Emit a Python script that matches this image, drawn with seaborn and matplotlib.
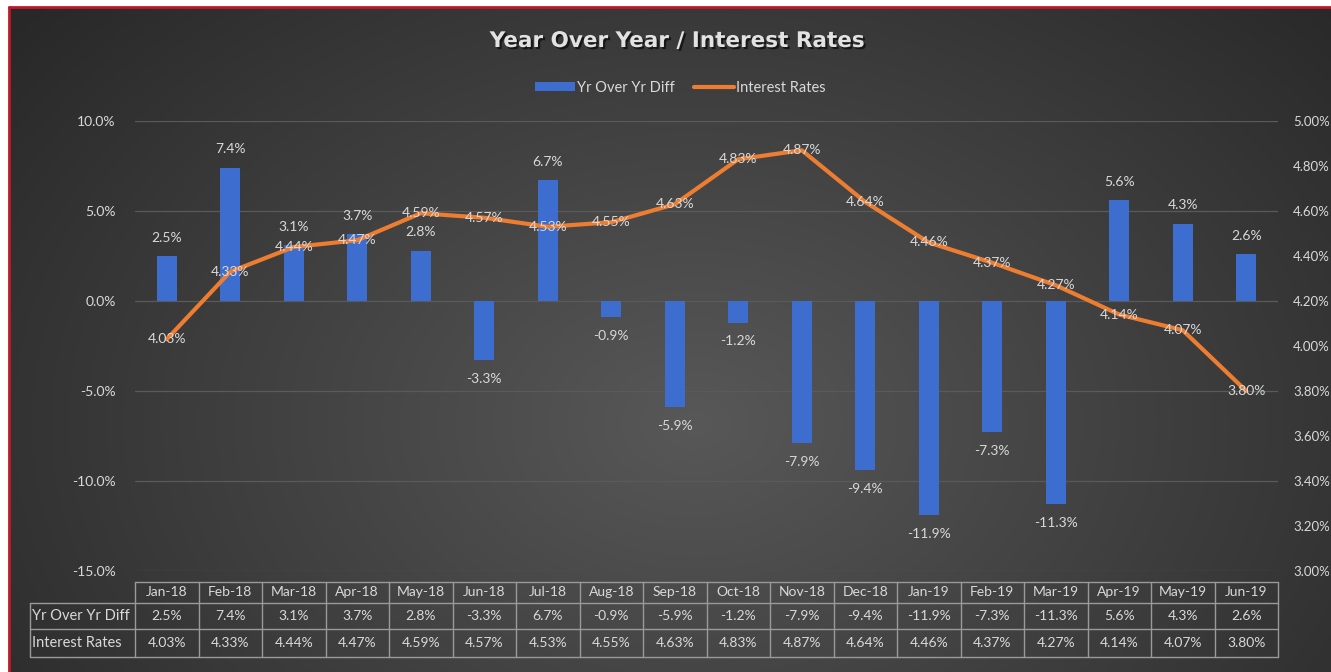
import numpy as np
import pandas as pd
import matplotlib
matplotlib.use("Agg")
import matplotlib.pyplot as plt
import matplotlib.transforms as mtrans
from matplotlib.lines import Line2D
from matplotlib.patches import Patch
import matplotlib.patheffects as pe
import seaborn as sns

# data
months = ["Jan-18", "Feb-18", "Mar-18", "Apr-18", "May-18", "Jun-18", "Jul-18", "Aug-18", "Sep-18",
          "Oct-18", "Nov-18", "Dec-18", "Jan-19", "Feb-19", "Mar-19", "Apr-19", "May-19", "Jun-19"]
yoy_diff = [2.5, 7.4, 3.1, 3.7, 2.8, -3.3, 6.7, -0.9, -5.9, -1.2, -7.9, -9.4, -11.9, -7.3, -11.3, 5.6, 4.3, 2.6]
interest_rates = [4.03, 4.33, 4.44, 4.47, 4.59, 4.57, 4.53, 4.55, 4.63, 4.83, 4.87, 4.64, 4.46, 4.37, 4.27, 4.14, 4.07, 3.80]
left_ticks = [-15, -10, -5, 0, 5, 10]
right_ticks = [3.0, 3.2, 3.4, 3.6, 3.8, 4.0, 4.2, 4.4, 4.6, 4.8, 5.0]

sns.set_theme(style="dark")
plt.rcParams["font.family"] = ["Lato", "DejaVu Sans"]

txt = "#d9d9d9"
blue = "#3d6dcf"
orange = "#ed7d31"

W, H = 1331, 672
fig = plt.figure(figsize=(W / 100, H / 100), dpi=100, facecolor="white")

# radial gradient background
bg = fig.add_axes([10 / W, 0, 1 - 10 / W, 1 - 8 / H])
bg.set_axis_off()
yy, xx = np.mgrid[0:H, 0:W]
r = np.sqrt(((xx - 690) / 900) ** 2 + ((yy - 420) / 650) ** 2)
shade = np.clip(0.345 - 0.19 * r, 0.16, 0.345)
bg.imshow(np.dstack([shade, shade, shade]), aspect="auto", extent=[0, 1, 0, 1])
bg.set_xlim(0, 1)
bg.set_ylim(0, 1)
fig.add_artist(Line2D([9 / W, 1], [1 - 7 / H, 1 - 7 / H], color="#c0182a", lw=2, transform=fig.transFigure))
fig.add_artist(Line2D([9 / W, 9 / W], [0, 1 - 7 / H], color="#c0182a", lw=2, transform=fig.transFigure))

ax = fig.add_axes([135 / W, 1 - 571 / H, (1278 - 135) / W, (571 - 121) / H])
ax.set_facecolor("none")
idx = np.arange(len(months))
df = pd.DataFrame({"pos": idx, "month": months, "yoy": yoy_diff, "rate": interest_rates})

sns.barplot(data=df, x="month", y="yoy", color=blue, width=0.32, saturation=1, ax=ax, zorder=2,
            edgecolor="none", linewidth=0)
ax.set_ylim(-15, 10)
ax.set_xlim(-0.5, len(months) - 0.5)
ax.set_yticks(left_ticks)
ax.set_yticklabels([f"{t:.1f}%" for t in left_ticks], color=txt, fontsize=10)
ax.tick_params(axis="y", pad=14, length=0)
ax.set_xticks([])
ax.set_xlabel("")
ax.set_ylabel("")
for s in ax.spines.values():
    s.set_visible(False)
for t in left_ticks:
    ax.axhline(t, color="#5a5a5a", lw=0.9, zorder=0)

for i, v in enumerate(yoy_diff):
    off = 9 if v >= 0 else -9
    ax.annotate(f"{v:.1f}%", (i, v), xytext=(0, off), textcoords="offset points",
                ha="center", va="bottom" if v >= 0 else "top", color=txt, fontsize=10, zorder=5)

ax2 = ax.twinx()
sns.lineplot(data=df, x="pos", y="rate", color=orange, lw=3, ax=ax2, zorder=3,
             solid_joinstyle="round", solid_capstyle="round")
ax2.set_ylim(3.0, 5.0)
ax2.set_yticks(right_ticks)
ax2.set_yticklabels([f"{t:.2f}%" for t in right_ticks], color=txt, fontsize=9.5)
ax2.tick_params(axis="y", pad=11, length=0)
ax2.set_ylabel("")
ax2.set_xlabel("")
ax2.grid(False)
for s in ax2.spines.values():
    s.set_visible(False)
for i, v in enumerate(interest_rates):
    ax2.annotate(f"{v:.2f}%", (i, v), ha="center", va="center", color=txt, fontsize=10, zorder=6)

# title and legend
fig.text(677 / W, 1 - 41 / H, "Year Over Year / Interest Rates", ha="center", va="center",
         color="#e2e2e2", fontsize=15.5, fontweight="bold", family="DejaVu Sans",
         path_effects=[pe.withSimplePatchShadow(offset=(1.5, -1.5), shadow_rgbFace="black", alpha=0.6)])
handles = [Patch(facecolor=blue, edgecolor="none", label="Yr Over Yr Diff"),
           Line2D([0], [0], color=orange, lw=3, label="Interest Rates")]
fig.legend(handles=handles, loc="center", bbox_to_anchor=(680 / W, 1 - 88 / H), ncol=2, frameon=False,
           fontsize=10.5, labelcolor=txt, handlelength=2.8, handleheight=0.55, handletextpad=0.1,
           columnspacing=1.3)

# data table under the plot
blend = mtrans.blended_transform_factory(ax.transData, fig.transFigure)
fy = lambda p: 1 - p / H
rows_y = [582, 603, 629, 657]
grid_c = "#9a9a9a"
n = len(months)
# header row spans only the month columns
fig.add_artist(Line2D([-0.5, n - 0.5], [fy(rows_y[0])] * 2, color=grid_c, lw=1, transform=blend))
for yv in rows_y[1:]:
    fig.add_artist(Line2D([30 / W, 1278 / W], [fy(yv)] * 2, color=grid_c, lw=1, transform=fig.transFigure))
fig.add_artist(Line2D([30 / W, 30 / W], [fy(rows_y[1]), fy(rows_y[3])], color=grid_c, lw=1, transform=fig.transFigure))
for k in range(n + 1):
    fig.add_artist(Line2D([k - 0.5, k - 0.5], [fy(rows_y[0]), fy(rows_y[3])], color=grid_c, lw=1, transform=blend))
for i in range(n):
    fig.text(i, fy((rows_y[0] + rows_y[1]) / 2), months[i], transform=blend, ha="center", va="center", color=txt, fontsize=10)
    fig.text(i, fy((rows_y[1] + rows_y[2]) / 2), f"{yoy_diff[i]:.1f}%", transform=blend, ha="center", va="center", color=txt, fontsize=10)
    fig.text(i, fy((rows_y[2] + rows_y[3]) / 2), f"{interest_rates[i]:.2f}%", transform=blend, ha="center", va="center", color=txt, fontsize=10)
fig.text(32 / W, fy((rows_y[1] + rows_y[2]) / 2), "Yr Over Yr Diff", ha="left", va="center", color=txt, fontsize=10.5)
fig.text(32 / W, fy((rows_y[2] + rows_y[3]) / 2), "Interest Rates", ha="left", va="center", color=txt, fontsize=10.5)

fig.savefig("out.png", dpi=100, facecolor=fig.get_facecolor())
